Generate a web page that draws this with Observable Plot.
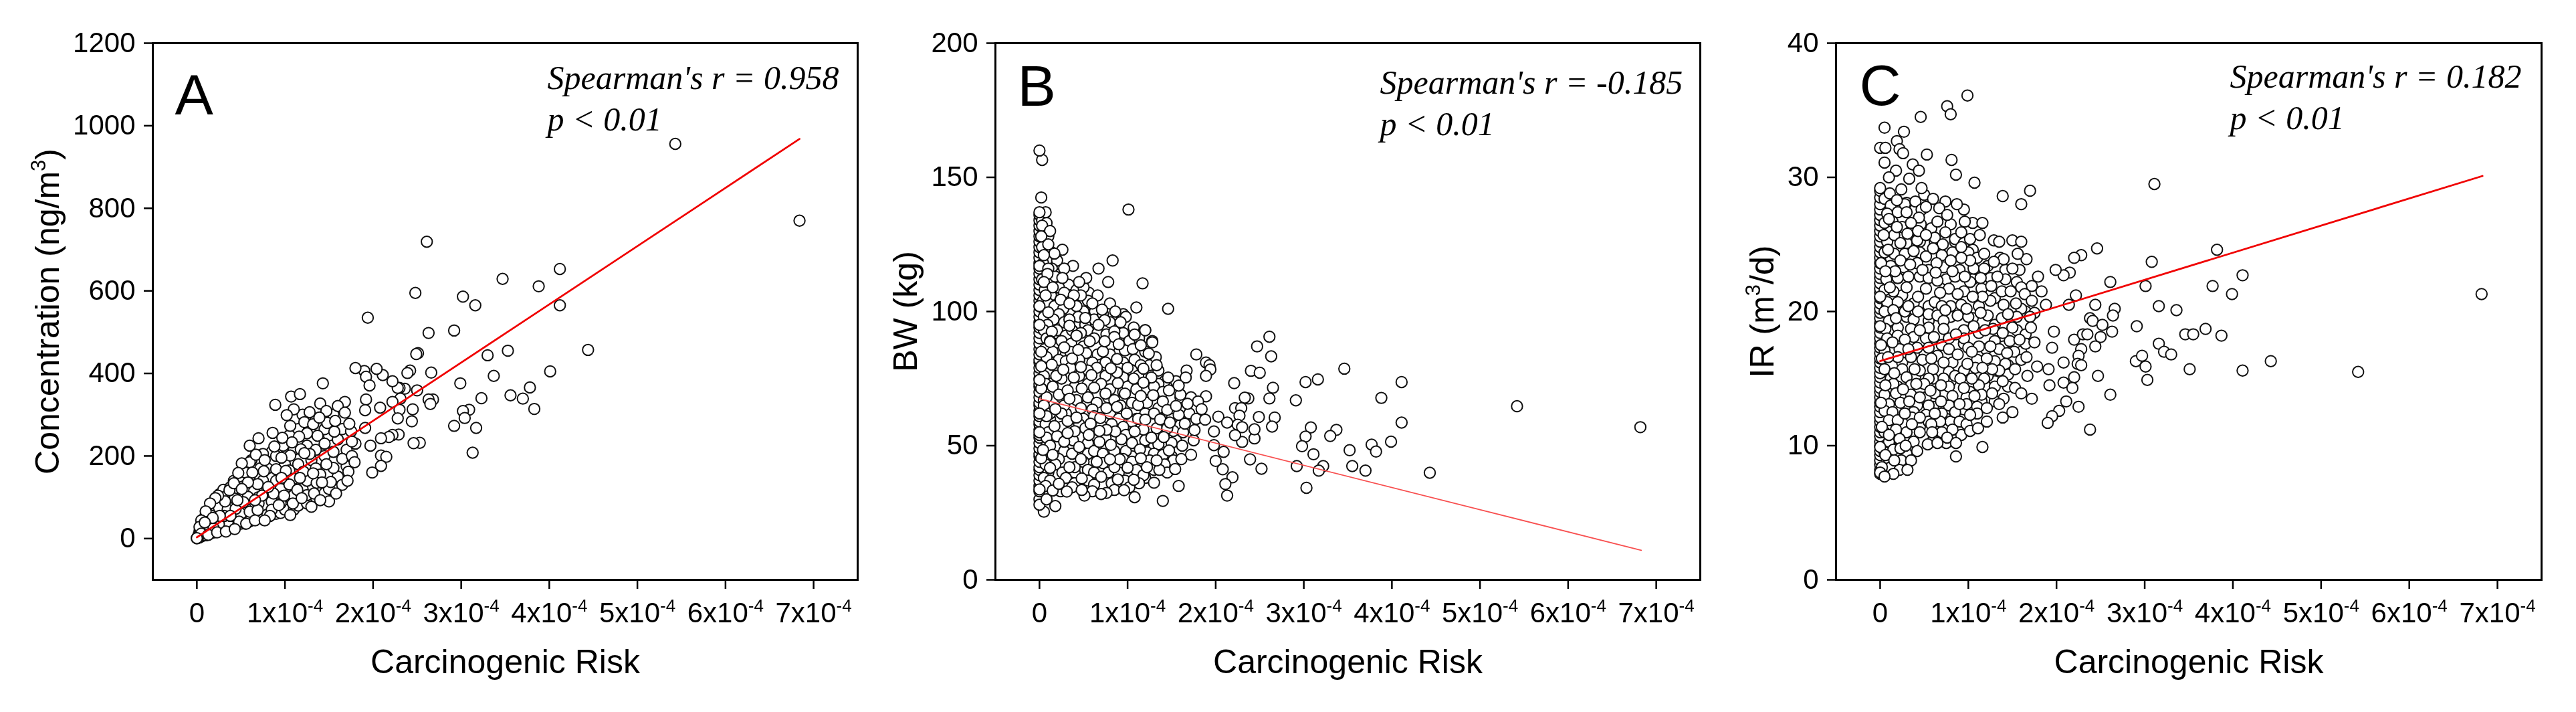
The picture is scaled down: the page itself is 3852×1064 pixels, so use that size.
<!DOCTYPE html>
<html><head><meta charset="utf-8">
<script src="https://cdn.jsdelivr.net/npm/d3@7"></script>
<script src="https://cdn.jsdelivr.net/npm/@observablehq/plot@0.6"></script>
<style>
body{margin:0;background:#fff}
#row{display:flex;width:3852px;height:1064px}
#row svg{display:block;flex:none;filter:blur(.6px)}
</style></head><body><div id="row"></div>
<script>
// Risk values are in units of 1e-4
const riskTicks=[0,1,2,3,4,5,6,7];
const riskLabels=["0","1x10^-4","2x10^-4","3x10^-4","4x10^-4","5x10^-4","6x10^-4","7x10^-4"];

const coneA=[[0,1],[.01,4],[.02,9],[.02,2],[.03,18],[.03,3],[.04,26],[.05,5],[.05,33],[.06,7],[.07,40],[.08,8],[.08,48],[.1,8],[.1,56],[.11,14],[.12,62],[.13,12],[.14,70],[.15,12],[.16,76],[.17,18],[.18,84],[.2,15],[.2,92],[.22,20],[.23,100],[.25,22],[.26,108],[.28,24],[.3,118],[.31,28],[.35,28],[.38,124],[.4,30],[.42,140],[.45,32],[.48,150],[.5,36],[.52,170],[.55,36],[.6,42],[.62,190],[.68,50],[.75,52],[.8,58],[.85,210],[.9,60],[.95,62],[1,70],[1.1,70],[1.15,80],[1.25,85]];
const fillA=[[.1,50],[.15,60],[.2,80],[.25,75],[.3,100],[.35,70],[.4,110],[.45,115],[.5,100],[.55,120],[.55,75],[.6,150],[.65,115],[.7,100],[.75,140],[.8,120],[.8,170],[.85,90],[.9,140],[.95,120],[1,180],[1.05,100],[1.05,165],[1.1,145],[1.1,215],[1.15,180],[1.2,120],[1.25,140],[1.25,225],[1.3,190],[1.35,170],[1.35,215],[1.4,155],[1.45,110],[1.45,200],[1.5,250],[1.5,120],[1.55,210],[1.6,150],[1.6,240],[1.65,130],[1.65,265],[1.7,215],[1.7,175],[1.75,260],[1.8,230],[.9,200],[.98,225],[.75,205],[.72,170],[.6,185],[.55,160],[1.15,265],[1.25,255],[1.05,250],[1.2,300],[1.35,290],[1.45,265],[1.55,300],[.2,30],[.3,40],[.35,40],[.4,55],[.5,60],[.6,65],[.7,85],[.85,70],[.95,85],[1.1,105],[1.25,105],[1.5,90],[.15,30],[.25,35],[.12,22],[.08,18],[.07,25],[.04,20],[.16,45]];
const cloudA=[[.89,324],[1.07,344],[1.17,350],[1.43,376],[1.1,313],[1.02,299],[1.4,327],[1.68,331],[1.6,321],[1.68,305],[1.47,309],[1.28,306],[1.06,273],[1.22,282],[1.48,280],[1.73,278],[1.56,259],[1.37,249],[1.16,247],[.86,256],[.7,243],[.6,225],[.88,223],[1.08,233],[1.45,230],[1.76,235],[1.18,216],[1.28,205],[1.06,201],[.67,203],[.51,182],[.47,159],[.63,160],[.9,168],[1.01,164],[1.65,193],[1.76,200],[1.79,185],[1.55,171],[1.72,162],[1.52,137],[1.71,140],[1.58,109],[1.36,135],[1.21,162],[1.05,131],[.69,132],[1.14,118],[.87,109],[1.33,109],[1.4,93],[1.3,77],[1.09,85],[1.06,57],[.93,81],[.83,55],[.69,69],[.58,101],[.43,97],[.32,90],[.44,72],[.48,41],[.31,55],[.1,31],[.19,25],[.37,117],[.42,134],[.24,104],[.21,98],[.15,85],[.1,66],[.05,44],[.03,28],[.05,12],[.13,9],[.23,15],[.33,17],[.43,23],[.56,36],[.66,44],[.77,44],[.77,190],[.97,244],[1.32,277],[1.57,285],[1.39,293],[1.22,207],[.96,196],[.76,163],[.58,136],[.51,120],[.53,88],[.74,104],[.99,104],[1.19,98],[1.47,180],[1.32,158],[1.42,136],[1.17,147],[.96,147],[.81,125],[.66,93],[.38,55],[.26,55],[.18,50],[.09,39],[.46,93],[0,1]];
const outerA=[[5.43,956],[6.84,770],[2.61,719],[4.12,653],[3.47,629],[3.88,611],[2.48,595],[3.02,586],[3.16,565],[4.12,565],[1.94,535],[2.63,498],[2.92,504],[4.44,457],[3.53,455],[2.51,449],[2.49,447],[3.3,444],[4.01,405],[2.66,402],[3.37,394],[2.99,376],[3.78,366],[3.56,347],[3.7,339],[3.23,340],[3.83,314],[3.09,312],[3.02,309],[3.04,292],[2.92,273],[3.17,268],[3.13,208],[2.68,337],[2.63,337],[2.65,326],[2.53,232],[2.46,231],[2.44,284],[2.45,313],[2.5,359],[2.42,407],[2.39,401],[2.36,363],[2.3,365],[2.28,365],[2.31,339],[2.22,381],[2.11,396],[2.04,411],[1.9,406],[1.8,413],[1.92,392],[1.96,371],[1.92,337],[1.91,311],[2.08,317],[2.22,331],[2.3,312],[2.28,291],[1.91,268],[2.29,252],[2.22,251],[2.18,246],[2.09,243],[1.97,225],[2.09,201],[2.15,198],[2.09,176],[1.99,160]];
const lineA=[[0,3],[6.84,968]];

const wallB=[30,33,35,37,39,41,42,44,46,47,49,51,53,54,56,58,59,61,63,65,66,68,70,72,73,75,77,79,81,82,84,86,88,90,92,94,96,98,100,102,104,106,108,110,112,114,116,118,120,122,124,126,128,130,132,134,136];
const fillB=[[.1,40],[.2,50],[.12,60],[.25,68],[.15,75],[.3,84],[.12,95],[.22,105],[.35,100],[.45,82],[.55,66],[.6,50],[.4,40],[.55,36],[.7,44],[.85,58],[.95,70],[.75,80],[.62,92],[.5,100],[.85,96],[1,88],[1.1,78],[1.2,62],[1.05,46],[.9,40],[1.2,38],[1.3,50],[1.4,60],[1.35,72],[1.25,80],[.08,50],[.05,67],[.1,82],[.06,100],[.15,118],[.05,127],[.2,110],[.4,92],[.3,62],[1.55,52],[1.6,68],[1.5,46],[.65,58],[.78,68],[1.1,60],
[.03,134],[.08,133],[.05,130],[.1,128],[.03,124],[.14,122],[.08,119],[.2,119],[.04,118],[.14,116],[.24,114],[.03,112],[.11,112],[.18,113],[.33,110],[.22,109],[.42,108],[.06,108],[.13,106],[.28,107],[.56,107],[.5,109],[.04,104],[.1,103],[.17,102],[.27,101],[.42,102],[.55,104],[.63,100],[.8,103],[.22,99],[.44,98],[.05,98],[.16,97],[.62,97],[.72,99],[.95,99],[.28,96],[.52,95],[.8,96],[.98,98],[.09,95],[.05,93],[.2,93],[.3,91],[.37,93],[.55,93],[.66,92],[.76,91.5],[.95,92],[1.02,89],[.08,90],[.17,88],[.25,89],[.36,88],[.5,87],[.62,90],[.8,87],[.97,85.5],[1.06,86],[1.2,85],[1.32,83],[.06,86],[.15,85],[.35,85],[.53,84.5],[.66,84],[.8,84],[.08,83],[.22,82],[.3,81.5],[.45,82],[.6,81],[.75,81],[.95,81],[1.08,82],[1.15,80],[1.35,78],[1.42,74],[1.05,78],[.9,79],[.65,79],[.55,78],[.35,79],[.1,77],[.05,76],[.25,75],[.45,76],[.75,76],[.95,75.5],[1.12,76],[1.35,73],[1.55,74],[1.22,71],[.07,73],[.15,72],[.4,72],[.55,73],[.7,73],[.8,71],[1,72],[1.1,71],[1.3,72],[1.4,70],[1.6,69],[1.72,68],[.08,68],[.22,69],[.42,67],[.55,68],[.65,66],[.85,67],[.92,65],[1.05,66],[1.22,66],[1.35,64],[1.7,62],[.05,65],[.28,65],[.47,64],[.6,63.5],[.8,62],[.12,62],[.25,62],[.5,60],[.62,61],[.9,60],[1.05,59],[1.12,60],[1.3,62],[1.5,60],[1.78,60],[.07,58],[.25,57],[.45,58],[.7,57.5],[.82,58],[.95,57],[1.18,56],[1.33,56.5],[1.52,55.5],[1.63,55],[1.45,56.5],[.1,55],[.52,56.5],[.08,53],[.2,53.5],[.38,52],[.55,51],[.75,53],[.98,54],[1.2,52],[1.35,50.5],[1.5,51],[1.62,50],[1.75,52],[.12,50],[.28,48],[.37,47],[.55,47],[.62,48],[.72,47],[.85,48],[.98,48],[1.22,47.5],[1.3,47],[1.4,46.5],[1.52,44.5],[.05,46],[.22,45],[.5,44],[.72,43.5],[.95,45],[1.05,44],[1.25,44.5],[1.42,43],[.07,43],[.18,43],[.26,40],[.4,42],[.55,41],[.62,40],[.78,40],[.85,42],[1.1,41],[1.18,39],[1.3,41],[1.45,40],[.05,38],[.12,37],[.3,38],[.4,36],[.55,37],[.62,35.5],[.82,36],[.97,37],[1.13,36],[1.02,34.5],[.24,33],[.37,34.5],[.6,33],[.85,33.5],[.07,35]];
const cloudB=[[.03,156.5],[0,160],[.02,142.5],[1.01,138],[.07,137],[0,137],[.03,132],[.12,130],[.02,128],[.1,125],[.26,123],[.17,121.6],[.05,121],[0,117],[.1,116],[.38,117],[.67,116],[.83,119],[.28,116],[.53,112.5],[.45,111],[.78,111],[1.17,110.5],[.09,114],[.26,112.5],[.05,111],[.15,109],[.66,106],[.47,106],[.39,106],[.07,106],[.24,104.4],[.6,103],[.34,103],[0,102],[1.1,101.5],[1.46,101],[.71,100.7],[.86,100],[.1,99.7],[.52,97.6],[.34,97],[.92,96],[.74,96.8],[1.07,94],[1.2,93],[.67,95],[.34,94.7],[0,95],[.14,92.5],[.85,92.6],[.47,92],[1.13,90],[1.28,89],[.42,91],[.85,90.5],[.12,89],[1.78,84],[1.89,81],[1.93,80],[1.94,78.4],[1.89,76],[1.67,78],[1.66,75.4],[1.89,68.4],[1.8,66.5],[1.84,63.6],[1.58,72.4],[1.46,75.4],[1.33,80],[1.28,88.5],[1.24,84.3],[1.15,87.4],[1.47,70.6],[1.88,59.7],[1.76,55.8],[1.72,46.6],[1.58,35],[1.4,29.4],[1.3,36.2],[1.08,30.8],[1.54,41.3],[1.61,45],[1.36,41],[1.22,42],[1.07,37.3],[.96,33.4],[.76,32.4],[.7,32],[.51,31.4],[.48,33.5],[.18,27.5],[.05,25.4],[0,28],[.08,30],[0,33.7],[.15,33.3],[.31,32.9],[.22,35.8],[.48,37.8],[.7,38.4],[.89,37.4],[1,41.8],[.65,44],[.47,45],[.34,42],[.12,41.7],[.02,45.3],[.15,46.6],[.04,48.4],[.28,51.5],[.45,49.5],[.68,51.4],[.81,50.3],[.93,52.4],[1.05,51],[1.14,48.6],[.91,44.9],[.8,44.9],[1.15,45.3],[1.33,44.5],[1.47,48.2],[1.27,53],[1.41,53.2],[1.08,55.3],[.86,55.3],[.76,55.9],[.56,54],[.68,55.5],[.4,55.4],[.32,54.7],[.17,57.3],[0,55],[.08,61],[0,62],[.58,58.2],[.32,59.2],[.18,63.6],[.42,60.5],[.76,64],[.88,64.4],[.69,60.3],[.99,62],[1.2,59.7],[1.37,59.8],[1.48,58.6],[1.58,61.5],[1.65,58.2],[1.4,66.5],[1.45,63.3],[1.55,64.8],[1.68,65.6],[1.12,65.2],[1.29,68.8],[1.15,68.5],[.97,69.4],[.75,69.4],[.62,71.6],[.48,71.3],[.32,70.6],[.34,67.5],[.02,71.3],[0,74.5],[.19,76],[.39,75.4],[.59,76.3],[.89,73.3],[1.07,75],[1.27,75.4],[1.18,73.5],[.88,77.3],[1,79],[1.18,78.7],[.81,78.8],[.47,79.3],[.27,78.3],[.14,80.2],[.02,79.6],[.02,85],[.37,82.5],[.88,82.3],[.72,85.1],[.44,85.7],[.28,86.6],[.12,88.7],[.74,88.9],[.57,88.9],[.42,91],[.9,87.8],[1.08,91.4],[1.2,93]];
const outerB=[[6.82,56.9],[5.42,64.7],[3.46,78.7],[4.11,73.7],[3.16,74.7],[3.02,73.7],[2.91,66.9],[3.88,67.8],[2.65,71.6],[2.61,67.6],[2.67,60.5],[2.64,57.1],[2.49,60.7],[3.08,56.8],[3.37,55.9],[4.11,58.6],[3.3,53.6],[3.02,53.4],[2.98,49.8],[3.11,46.8],[3.77,50.4],[3.99,51.5],[3.52,48.3],[3.82,47.8],[2.92,42.4],[3.22,42.4],[3.17,40.7],[3.55,42.4],[3.7,40.7],[4.43,39.9],[3.03,34.3],[2.52,41.4],[2.39,44.9],[2.44,52.7],[2.44,56.1],[2.37,67.6],[2.33,67.9],[2.47,87],[2.61,90.6],[2.63,83.3],[2.4,77.9],[2.5,77.2],[2.21,73.3],[2.22,64],[2.29,64],[2.27,61.2],[2.25,57.8],[2.3,56.9],[2.3,51.4],[2.22,53.9],[2.03,60.8],[2.13,58.6],[1.98,55.3],[1.98,50.2],[2.09,47.7],[2,44.3],[2.08,41.2],[2.19,38.2],[2.11,35.7],[2.13,31.4]];
const lineB=[[0,67.5],[6.83,11]];

const wallC=[7.9,8.2,8.6,8.9,9.3,9.6,10,10.3,10.7,11,11.4,11.8,12.1,12.5,12.9,13.2,13.6,14,14.3,14.7,15.1,15.4,15.8,16.2,16.5,16.9,17.3,17.6,18,18.4,18.8,19.1,19.5,19.9,20.2,20.6,21,21.4,21.7,22.1,22.5,22.8,23.2,23.6,24,24.4,24.8,25.2,25.6,26,26.4,26.8,27.2,27.6,28,28.5,29];
const fillC=[[.1,9.5],[.2,10.5],[.12,12],[.3,12.8],[.45,11.4],[.6,12.9],[.75,12],[.95,12.7],[.2,14.4],[.4,15.2],[.6,15],[.8,14.8],[1.15,13.3],[1.3,14.8],[1.45,16],[1.2,17.2],[.95,17.6],[.7,17.5],[.5,17],[.25,16.2],[.1,18.5],[.3,19.6],[.55,19.3],[.8,19.6],[1.05,19.5],[1.3,19],[1.55,18.6],[1.65,20],[.08,20.4],[.25,21.2],[.55,20.4],[.8,20.4],[1.05,22.4],[1.3,21],[.2,22.5],[.45,22.6],[.75,22.4],[.12,24],[.35,24.2],[.62,25.2],[.85,25.2],[1.05,24.6],[.12,26.2],[.3,28.1],[.12,27.5],[.45,25.2],[1.4,17.4],[1.6,17],[1.02,14],[.8,11.8],
[.05,28.4],[.12,27.9],[.2,27.4],[.08,27.3],[.28,28],[.4,28.2],[.5,28.7],[.47,27.6],[.05,26.6],[.14,26.7],[.25,26.3],[.36,26.1],[.46,26.5],[.58,26.2],[.65,26.7],[.8,26.5],[.85,25.4],[.95,25.1],[.62,25.5],[.3,25.1],[.08,25.2],[.16,25.7],[.42,25.3],[1.02,25.4],[.05,24.4],[.16,24.3],[.28,24.3],[.45,24.4],[.52,24.1],[.7,24.2],[.82,24.4],[1,24.4],[1.1,24],[1.22,23.4],[1.36,24],[1.42,23.1],[.12,23.4],[.27,23.3],[.42,23.6],[.55,23.1],[.72,23.3],[.9,23.1],[1.06,23.2],[1.58,23.1],[.07,22.4],[.2,22.5],[.32,22.6],[.55,22.5],[.65,22.3],[.85,22.6],[1.02,22.2],[1.25,22.5],[1.42,22.4],[1.55,22.2],[1.72,21.9],[.15,21.5],[.3,21.8],[.52,21.7],[.78,21.7],[.95,21.5],[1.15,21.7],[1.38,21.5],[1.6,21.8],[.05,21.6],[.08,20.7],[.2,20.7],[.38,20.6],[.62,20.7],[.7,20.4],[.92,20.5],[1.12,20.4],[1.25,20.8],[1.4,20.5],[1.6,20.2],[1.75,19.9],[.05,20],[.15,20.1],[.28,20],[.55,19.8],[.65,19.7],[.88,19.7],[1,19.6],[1.22,19.7],[1.38,19.5],[1.55,19.6],[1.7,19.6],[.38,19.4],[.1,19.3],[.72,19.3],[.06,18.7],[.2,18.8],[.35,18.7],[.55,18.8],[.72,18.7],[.95,18.6],[1.12,18.4],[1.28,18.7],[1.5,18.8],[1.65,18.3],[.08,18],[.2,18.2],[.38,18.1],[.52,18],[.78,18],[.95,18],[1.3,17.8],[1.47,17.8],[1.65,17.6],[.05,17.1],[.22,17.2],[.42,17.3],[.55,17.3],[.78,17.2],[1,17.3],[1.12,17.4],[1.35,17.2],[1.52,17],[.02,16.5],[.2,16.6],[.35,16.6],[.48,16.4],[.65,16.7],[.82,16.2],[1.1,16.4],[1.3,16.3],[1.42,16.1],[1.6,16.4],[1.78,15.9],[.05,15.7],[.25,15.7],[.45,15.6],[.6,15.7],[.78,15.5],[.95,15.6],[1.08,15.8],[1.22,15.2],[1.45,15.3],[.12,15],[.3,15.1],[.55,15],[.72,15],[.85,15.2],[1.18,15],[.15,14.6],[.35,14.5],[.5,14.6],[.78,14.4],[1.12,14.5],[1.3,14.4],[1.45,14.4],[.05,13.8],[.18,13.9],[.35,13.8],[.52,13.6],[.62,13.9],[.82,13.7],[.98,13.6],[1.15,13.8],[1.4,13.5],[.1,13.1],[.42,13],[.55,13],[.78,13],[.98,13.1],[1.1,12.9],[1.3,13.3],[.05,12.6],[.14,12.5],[.38,12.5],[.52,12.3],[.7,12.4],[.85,12.5],[1.1,12.4],[.1,11.9],[.2,11.9],[.36,12.1],[.55,11.8],[.68,11.8],[.9,11.8],[.98,11.6],[.05,11],[.18,11.2],[.3,11],[.45,11],[.7,11],[.92,10.8],[.1,10.3],[.22,10.5],[.38,10.3],[.6,10.4],[.75,10.2],[.05,9.5],[.15,9.7],[.3,9.4],[.42,9.6],[.1,9],[.24,8.9],[.12,8.4],[.22,8.2]];
const cloudC=[[.99,36.1],[.76,35.3],[.8,34.7],[.46,34.5],[.05,33.7],[.27,33.4],[.19,32.7],[0,32.2],[.06,32.2],[.22,32.1],[.26,31.8],[.53,31.7],[.81,31.3],[.05,31.1],[.37,30.96],[.18,30.5],[.44,30.5],[.86,30.2],[.33,29.9],[.1,30],[1.07,29.6],[.47,29.2],[0,29.2],[.24,29.1],[1.7,29],[1.39,28.6],[.11,28.8],[1.6,28],[.19,28.3],[.74,28.2],[.6,28.4],[.52,27.8],[.95,27.6],[.87,28],[.67,27.7],[.3,27.4],[.76,27.2],[.1,26.9],[.44,27],[1.05,26.6],[1.16,26.6],[.96,26.7],[.35,26.6],[.19,26.3],[.74,25.9],[.92,25.9],[1.13,25.7],[.43,26],[.31,25.8],[.52,25.7],[.04,25.7],[1.29,25.3],[1.5,25.3],[1.6,25.2],[1.35,25.2],[.23,25.1],[.71,25],[1.66,23.9],[1.56,24.3],[1.18,24.3],[.92,24.8],[.6,24.7],[.38,24.5],[.09,24.6],[1.4,23.9],[1.29,23.7],[1.02,23.8],[.92,24],[.8,23.8],[.23,23.8],[.64,23.6],[.34,23.5],[.01,23.6],[1.5,23.2],[1.18,23.2],[.82,23],[.48,23.1],[.17,23],[.06,23],[1.79,22.6],[1.33,22.6],[.96,22.6],[.63,22.9],[1.14,22.5],[1.83,21.5],[1.64,21.3],[1.48,21.5],[1.26,21.9],[1.88,20.5],[1.72,20.8],[1.54,20.6],[1.16,21.1],[1.05,21.1],[.88,21.3],[.68,21.4],[.43,21.1],[.11,21.8],[0,21.1],[1.71,18.8],[1.45,19.8],[1.14,19.9],[.98,20.2],[.74,20.1],[.43,20],[.32,20.4],[.18,19.5],[0,18.9],[1.75,17.7],[1.58,17.9],[1.39,18.4],[1.19,18.6],[1.06,18.9],[.86,18.3],[.61,18.1],[.45,18.6],[.28,17.9],[.14,17.7],[.01,17.5],[1.66,16.6],[1.44,16.9],[1.25,17.4],[1.04,17],[.88,16.8],[.58,16.5],[.32,17.2],[.09,16.6],[.72,16.2],[1.21,16.5],[1.53,15.7],[1.35,15.6],[1.27,15.7],[1.16,15.8],[.39,15.7],[.16,15.4],[.99,16.1],[1.67,15.2],[1.39,14.8],[1.04,15],[.91,15],[1.53,14.3],[.95,14.3],[.69,14.5],[.41,14.6],[.26,14.2],[.06,14.5],[.57,14.1],[1.6,13.9],[1.27,13.9],[1.07,13.7],[1.72,13.5],[.45,13.6],[1.5,12.5],[1.39,12.1],[1.35,13.1],[1.21,12.8],[1.02,12.3],[.9,13.1],[.69,13.3],[.23,13.2],[.01,13.2],[.33,13.3],[1.21,11.8],[.62,12.4],[.28,12.4],[.45,12.1],[.02,11.4],[.36,11.6],[.58,11.6],[.82,11.2],[1.02,11.1],[1.11,11.3],[.59,11],[.1,10.8],[.76,10.6],[.23,9.8],[.54,10.1],[.86,10.2],[1.16,9.9],[.65,10.2],[.86,9.2],[0,9.9],[.06,9.3],[.35,8.9],[.16,8.9],[.02,8.4],[.31,8.2],[.15,7.9],[0,8],[.05,7.7],[.29,10]];
const outerC=[[3.11,29.5],[6.82,21.3],[3.08,23.7],[3.01,21.9],[3.77,21.9],[4.11,22.7],[3.82,24.6],[3.99,21.3],[3.16,20.4],[3.36,20.1],[2.91,18.9],[3.46,18.3],[3.55,18.3],[3.69,18.7],[3.87,18.2],[3.16,17.6],[3.22,17],[3.3,16.8],[2.9,16.3],[2.97,16.7],[3.01,15.9],[3.03,14.9],[3.51,15.7],[4.11,15.6],[4.43,16.3],[5.42,15.5],[2.66,20.2],[2.61,22.2],[2.63,18.5],[2.64,19.7],[2.46,24.7],[2.28,24.2],[2.2,24],[2.15,22.9],[2.08,22.7],[1.99,23.1],[2.22,21.2],[2.14,20.5],[2.44,20.5],[2.38,19.5],[2.41,19.3],[2.52,19],[2.5,18.1],[2.44,17.4],[2.2,17.9],[2.3,18.3],[2.35,18.3],[1.97,18.5],[1.95,17.3],[2.28,17.2],[2.25,16.7],[2.24,16.1],[2.28,16],[2.08,16.2],[2.2,15.1],[2.47,15.2],[1.91,15.7],[2.08,14.7],[1.92,14.5],[2.18,14.3],[2.11,13.3],[2.25,12.9],[2.61,13.8],[2.03,12.6],[1.95,12.2],[1.9,11.7],[2.38,11.2]];
const lineC=[[0,16.3],[6.83,30.1]];

function panel(o){
  return Plot.plot({
    width:1284,height:1064,marginLeft:o.ml,marginRight:o.mr,marginTop:64,marginBottom:198,
    style:{fontFamily:"'Liberation Sans',Arial,sans-serif",color:"#000",background:"#fff",overflow:"visible"},
    x:{domain:[-0.5,7.5]},
    y:{domain:o.domain},
    marks:[
      Plot.dot(o.points,{x:d=>d[0],y:d=>d[1],r:8.2,fill:"#fff",stroke:"#111",strokeWidth:2}),
      Plot.line(o.line,{x:d=>d[0],y:d=>d[1],stroke:o.lineColor,strokeWidth:o.lineWidth}),
      Plot.frame({stroke:"#000",strokeWidth:3}),
      Plot.axisX({ticks:riskTicks,tickFormat:d=>riskLabels[d],tickSize:14,tickPadding:20,strokeWidth:2.5,fontSize:42,label:null}),
      Plot.axisY({ticks:o.yTicks,tickFormat:d=>String(d),tickSize:13,tickPadding:13,strokeWidth:2.5,fontSize:42,label:null}),
      Plot.text(["Carcinogenic Risk"],{frameAnchor:"bottom",lineAnchor:"middle",dy:123,fontSize:50}),
      Plot.text([o.ylabel],{frameAnchor:"left",textAnchor:"middle",lineAnchor:"middle",dx:-o.labelGap,rotate:-90,fontSize:50}),
      Plot.text([o.letter],{frameAnchor:"top-left",textAnchor:"start",lineAnchor:"bottom",dx:o.letterX,dy:o.letterY,fontSize:86}),
      Plot.text([o.stat],{frameAnchor:"top-left",textAnchor:"start",lineAnchor:"bottom",dx:o.statX,dy:o.statY,fontSize:50,fontStyle:"italic",fontFamily:"'Liberation Serif',serif"}),
      Plot.text(["p < 0.01"],{frameAnchor:"top-left",textAnchor:"start",lineAnchor:"bottom",dx:o.statX,dy:o.statY+62,fontSize:50,fontStyle:"italic",fontFamily:"'Liberation Serif',serif"})
    ]
  });
}
function supers(svg){
  svg.querySelectorAll("text").forEach(t=>{
    const nodes=t.querySelectorAll("tspan").length?[...t.querySelectorAll("tspan")]:[t];
    nodes.forEach(n=>{
      const s=n.textContent, m=s.match(/^(.*)\^(-?\d+)(.*)$/);
      if(!m)return;
      n.textContent="";
      const add=(txt,attrs)=>{const e=document.createElementNS("http://www.w3.org/2000/svg","tspan");e.textContent=txt;for(const k in attrs)e.setAttribute(k,attrs[k]);n.appendChild(e);};
      add(m[1],{});
      add(m[2],{"font-size":"62%",dy:"-0.62em"});
      if(m[3])add(m[3],{dy:"0.385em"});
    });
  });
}
const toPts=(wall,...lists)=>[...wall.map(y=>[0,y]),...lists.flat()];
const panels=[
 {points:[...coneA,...fillA,...outerA,...cloudA],line:lineA,lineColor:"#f00000",lineWidth:2.8,domain:[-100,1200],yTicks:[0,200,400,600,800,1000,1200],ml:228,mr:2,ylabel:"Concentration (ng/m^3)",labelGap:157,letter:"A",letterX:33,letterY:106,stat:"Spearman's r = 0.958",statX:590,statY:68},
 {points:toPts(wallB,fillB,outerB,cloudB),line:lineB,lineColor:"#f85050",lineWidth:1.8,domain:[0,200],yTicks:[0,50,100,150,200],ml:204,mr:26,ylabel:"BW (kg)",labelGap:134,letter:"B",letterX:33,letterY:93,stat:"Spearman's r = -0.185",statX:575,statY:75},
 {points:toPts(wallC,fillC,outerC,cloudC),line:lineC,lineColor:"#f00000",lineWidth:2.8,domain:[0,40],yTicks:[0,10,20,30,40],ml:177,mr:52,ylabel:"IR (m^3/d)",labelGap:110,letter:"C",letterX:35,letterY:92,stat:"Spearman's r = 0.182",statX:589,statY:66}
];
const row=document.getElementById("row");
panels.forEach(p=>{const s=panel(p);supers(s);row.appendChild(s);});
</script></body></html>
